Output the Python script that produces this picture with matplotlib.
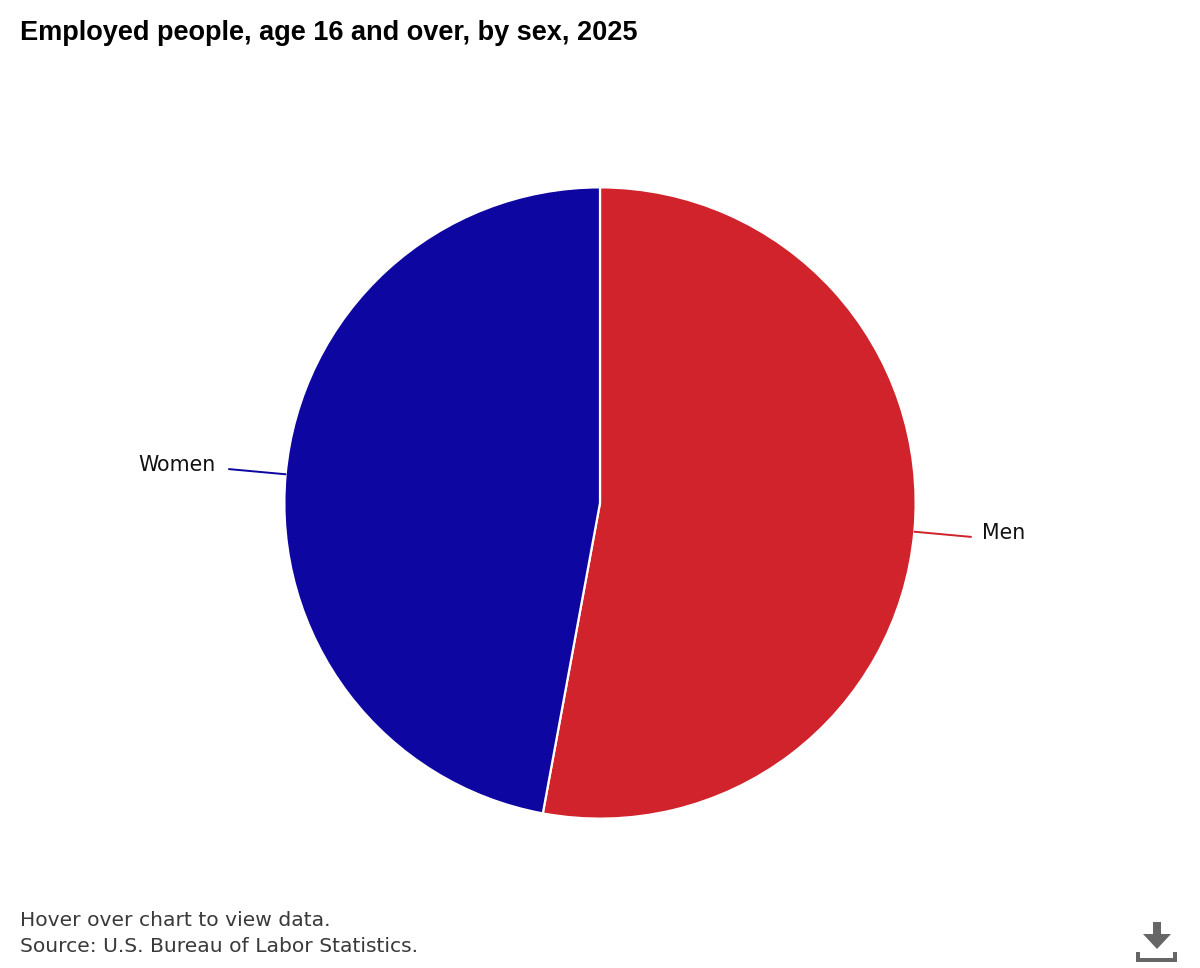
import numpy as np
import matplotlib
matplotlib.use('Agg')
import matplotlib.pyplot as plt
from matplotlib.patches import Polygon

labels = ['Men', 'Women']
values = [52.9, 47.1]
colors = ['#d0232b', '#0e06a0']

W, H = 1200, 968
fig = plt.figure(figsize=(W / 100, H / 100), dpi=100)
fig.patch.set_facecolor('white')

# full page axes in pixels, for the texts and the download icon
page = fig.add_axes([0, 0, 1, 1])
page.set_xlim(0, W)
page.set_ylim(H, 0)
page.set_axis_off()

# pie centre 600,503 radius 315 px
cx, cy, r = 600, 503, 315
ax = fig.add_axes([(cx - r) / W, 1 - (cy + r) / H, 2 * r / W, 2 * r / H])
wedges, _ = ax.pie(values, colors=colors, startangle=90, counterclock=False, radius=1.002,
                   wedgeprops={'edgecolor': 'white', 'linewidth': 1.6})
ax.set_xlim(-1, 1)
ax.set_ylim(-1, 1)
ax.set_axis_off()

# leader lines and labels
for w, name, col in zip(wedges, labels, colors):
    ang = np.deg2rad((w.theta1 + w.theta2) / 2)
    ux, uy = np.cos(ang), np.sin(ang)
    ax.plot([ux, 1.185 * ux], [uy, 1.185 * uy], color=col, lw=1.4, clip_on=False,
            solid_capstyle='butt')
    gap = 0.032 if ux > 0 else 0.040
    ax.text(1.185 * ux + np.sign(ux) * gap, 1.185 * uy + 0.014, name, fontsize=14.8,
            family='DejaVu Sans', color='#111111',
            ha='left' if ux > 0 else 'right', va='center')

page.text(20, 33, 'Employed people, age 16 and over, by sex, 2025', fontsize=19.5,
          family='Liberation Sans', fontweight='bold', color='black', va='center')
page.text(20, 920, 'Hover over chart to view data.', fontsize=14.6, family='DejaVu Sans',
          color='#3a3a3a', va='center')
page.text(20, 946, 'Source: U.S. Bureau of Labor Statistics.', fontsize=14.6, family='DejaVu Sans',
          color='#3a3a3a', va='center')

# download icon
icon = '#666666'
page.add_patch(Polygon([(1153, 922), (1161, 922), (1161, 934), (1171, 934), (1157, 949),
                        (1143, 934), (1153, 934)], closed=True, fc=icon, ec='none'))
page.add_patch(Polygon([(1136, 952), (1140, 952), (1140, 958), (1173, 958), (1173, 952),
                        (1177, 952), (1177, 962), (1136, 962)], closed=True, fc=icon, ec='none'))

fig.savefig('out.png', dpi=100, facecolor='white')
